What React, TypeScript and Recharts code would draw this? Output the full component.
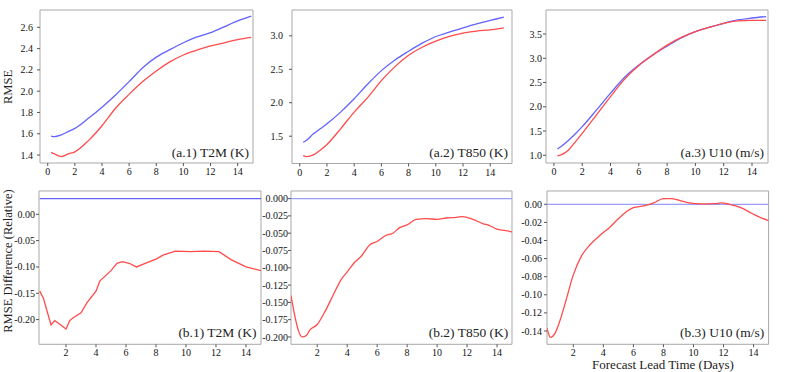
import React from "react"
import { LineChart, Line, XAxis, YAxis, ReferenceArea } from "recharts"

// lead times (days) for the RMSE panels
const topDays = [0.25, 0.5, 1, 1.5, 2, 3, 4, 5, 6, 7, 8, 9, 10, 11, 12, 13, 14, 15]

const t2mBlue = [1.578, 1.573, 1.59, 1.62, 1.65, 1.745, 1.85, 1.965, 2.09, 2.22, 2.32, 2.39, 2.455, 2.51, 2.55, 2.605, 2.66, 2.705]
const t2mRed = [1.425, 1.41, 1.385, 1.41, 1.43, 1.535, 1.675, 1.84, 1.97, 2.09, 2.19, 2.275, 2.34, 2.385, 2.425, 2.455, 2.485, 2.505]

const t850Blue = [1.41, 1.44, 1.535, 1.61, 1.685, 1.86, 2.06, 2.28, 2.48, 2.64, 2.77, 2.89, 2.99, 3.055, 3.12, 3.18, 3.23, 3.28]
const t850Red = [1.21, 1.195, 1.22, 1.29, 1.376, 1.61, 1.86, 2.08, 2.33, 2.54, 2.71, 2.83, 2.92, 2.99, 3.04, 3.07, 3.09, 3.12]

const u10Blue = [1.13, 1.18, 1.3, 1.44, 1.59, 1.93, 2.28, 2.61, 2.86, 3.07, 3.25, 3.42, 3.55, 3.64, 3.72, 3.79, 3.83, 3.86]
const u10Red = [0.99, 1.01, 1.1, 1.27, 1.45, 1.83, 2.21, 2.57, 2.85, 3.07, 3.27, 3.43, 3.55, 3.64, 3.72, 3.77, 3.78, 3.78]

// relative RMSE difference panels
const t2mDiffDays = [0.25, 0.5, 1.0, 1.25, 1.5, 2.0, 2.25, 2.5, 3.0, 3.4, 4.0, 4.25, 5.0, 5.4, 5.75, 6.2, 6.7, 7.4, 8.0, 8.5, 9.3, 10.3, 11.2, 12.2, 13.0, 14.0, 15.0]
const t2mDiff = [-0.146, -0.16, -0.21, -0.202, -0.207, -0.218, -0.202, -0.196, -0.187, -0.168, -0.146, -0.127, -0.107, -0.093, -0.09, -0.093, -0.1, -0.092, -0.085, -0.077, -0.07, -0.071, -0.07, -0.071, -0.086, -0.1, -0.107]
const t2mZero = [0.03, 0.03]

const t850DiffDays = [0.25, 0.5, 0.78, 1.0, 1.27, 1.5, 2.0, 2.5, 3.05, 3.6, 4.0, 4.5, 4.95, 5.5, 6.0, 6.6, 7.05, 7.5, 8.0, 8.6, 9.3, 10.0, 10.6, 11.3, 11.7, 12.4, 13.05, 13.5, 14.0, 14.5, 15.0]
const t850Diff = [-0.14, -0.169, -0.193, -0.2, -0.198, -0.19, -0.182, -0.164, -0.14, -0.117, -0.106, -0.092, -0.083, -0.067, -0.062, -0.053, -0.05, -0.042, -0.038, -0.03, -0.029, -0.03, -0.028, -0.027, -0.026, -0.03, -0.036, -0.039, -0.044, -0.046, -0.048]

const u10DiffDays = [0.25, 0.48, 0.77, 1.0, 1.45, 2.0, 2.55, 3.1, 3.8, 4.45, 5.0, 5.6, 6.0, 6.7, 7.35, 8.0, 8.5, 9.05, 9.7, 10.5, 11.4, 11.85, 12.4, 13.15, 13.85, 14.5, 15.0]
const u10Diff = [-0.137, -0.147, -0.143, -0.134, -0.11, -0.078, -0.057, -0.045, -0.034, -0.025, -0.016, -0.0074, -0.0037, -0.0018, 0.0015, 0.0063, 0.0063, 0.0044, 0.0015, 0.0004, 0.0007, 0.0015, 0, -0.0037, -0.0096, -0.015, -0.018]

const zeroDays = [0.25, 15]
const zeroLine = [0, 0]

const topXTicks = [0, 2, 4, 6, 8, 10, 12, 14]
const bottomXTicks = [2, 4, 6, 8, 10, 12, 14]

const zip = (days: number[], vals: number[]) => days.map((d, i) => ({ day: d, v: vals[i] }))

const BLUE = "#6262ff"
const RED = "#ff4b4b"
const ZERO = "#9c9cff"
const FRAME = "#a8a8a8"
const FONT = "Liberation Serif, serif"

type Box = { l: number; r: number; t: number; b: number }
type Series = { data: { day: number; v: number }[]; color: string; curve: "monotone" | "linear" }

function Panel(props: {
  box: Box
  xDomain: [number, number]
  xTicks: number[]
  yDomain: [number, number]
  yTicks: number[]
  digits: number
  gap: number
  series: Series[]
  title: string
}) {
  const { box, xDomain, xTicks, yDomain, yTicks, digits, gap, series, title } = props
  const YW = 48
  const PAD = 4
  const XH = 22
  const w = box.r - box.l + YW + PAD
  const h = box.b - box.t + PAD + XH
  const tickStyle = { fill: "#111", fontSize: 10, fontFamily: FONT }
  return (
    <div style={{ position: "absolute", left: box.l - YW, top: box.t - PAD, width: w, height: h, fontFamily: FONT }}>
      <LineChart width={w} height={h} margin={{ top: PAD, right: PAD, left: 0, bottom: 0 }} style={{ fontFamily: FONT }}>
        <XAxis
          type="number"
          dataKey="day"
          domain={xDomain}
          ticks={xTicks}
          allowDataOverflow
          interval={0}
          height={XH}
          axisLine={false}
          tickSize={3}
          tickLine={{ stroke: "#555" }}
          tick={tickStyle}
        />
        <YAxis
          type="number"
          domain={yDomain}
          ticks={yTicks}
          allowDataOverflow
          interval={0}
          width={YW}
          axisLine={false}
          tickSize={3}
          tickMargin={gap}
          tickLine={{ stroke: "#555" }}
          tickFormatter={(v: number) => v.toFixed(digits)}
          tick={tickStyle}
        />
        {series.map((s, i) => (
          <Line
            key={i}
            data={s.data}
            dataKey="v"
            type={s.curve}
            stroke={s.color}
            strokeWidth={1.3}
            dot={false}
            activeDot={false}
            isAnimationActive={false}
          />
        ))}
        <ReferenceArea
          x1={xDomain[0]}
          x2={xDomain[1]}
          y1={yDomain[0]}
          y2={yDomain[1]}
          fill="none"
          fillOpacity={0}
          stroke={FRAME}
          strokeWidth={1}
        />
      </LineChart>
      <div
        style={{
          position: "absolute",
          right: PAD + 4,
          bottom: XH + 4,
          fontFamily: FONT,
          fontSize: 13.5,
          lineHeight: 1,
          color: "#222",
          whiteSpace: "nowrap",
        }}
      >
        {title}
      </div>
    </div>
  )
}

const rotated = (text: string, cx: number, cy: number) => (
  <div
    style={{
      position: "absolute",
      left: cx,
      top: cy,
      transform: "translate(-50%, -50%) rotate(-90deg)",
      fontFamily: FONT,
      fontSize: 12.5,
      lineHeight: 1,
      color: "#222",
      whiteSpace: "nowrap",
    }}
  >
    {text}
  </div>
)

export default function App() {
  return (
    <div style={{ position: "absolute", left: 0, top: 0, width: 793, height: 372, background: "#fff", overflow: "hidden", fontFamily: FONT }}>
      <Panel
        box={{ l: 40, r: 253, t: 10, b: 163 }}
        xDomain={[-0.57, 15.13]}
        xTicks={topXTicks}
        yDomain={[1.325, 2.763]}
        yTicks={[1.4, 1.6, 1.8, 2.0, 2.2, 2.4, 2.6]}
        digits={1}
        gap={4}
        title="(a.1) T2M (K)"
        series={[
          { data: zip(topDays, t2mBlue), color: BLUE, curve: "monotone" },
          { data: zip(topDays, t2mRed), color: RED, curve: "monotone" },
        ]}
      />
      <Panel
        box={{ l: 292, r: 512, t: 9.5, b: 163 }}
        xDomain={[-0.57, 15.6]}
        xTicks={topXTicks}
        yDomain={[1.092, 3.386]}
        yTicks={[1.5, 2.0, 2.5, 3.0]}
        digits={1}
        gap={6}
        title="(a.2) T850 (K)"
        series={[
          { data: zip(topDays, t850Blue), color: BLUE, curve: "monotone" },
          { data: zip(topDays, t850Red), color: RED, curve: "monotone" },
        ]}
      />
      <Panel
        box={{ l: 546, r: 768, t: 10, b: 163 }}
        xDomain={[-0.56, 15.13]}
        xTicks={topXTicks}
        yDomain={[0.841, 3.995]}
        yTicks={[1.0, 1.5, 2.0, 2.5, 3.0, 3.5]}
        digits={1}
        gap={1}
        title="(a.3) U10 (m/s)"
        series={[
          { data: zip(topDays, u10Blue), color: BLUE, curve: "monotone" },
          { data: zip(topDays, u10Red), color: RED, curve: "monotone" },
        ]}
      />
      <Panel
        box={{ l: 38.5, r: 260.5, t: 190.7, b: 344 }}
        xDomain={[0.2, 15]}
        xTicks={bottomXTicks}
        yDomain={[-0.247, 0.0443]}
        yTicks={[-0.2, -0.15, -0.1, -0.05, 0]}
        digits={2}
        gap={1}
        title="(b.1) T2M (K)"
        series={[
          { data: zip(zeroDays, t2mZero), color: BLUE, curve: "linear" },
          { data: zip(t2mDiffDays, t2mDiff), color: RED, curve: "linear" },
        ]}
      />
      <Panel
        box={{ l: 291.3, r: 512.3, t: 190.7, b: 344 }}
        xDomain={[0.25, 15]}
        xTicks={bottomXTicks}
        yDomain={[-0.2106, 0.011]}
        yTicks={[-0.2, -0.175, -0.15, -0.125, -0.1, -0.075, -0.05, -0.025, 0]}
        digits={3}
        gap={0}
        title="(b.2) T850 (K)"
        series={[
          { data: zip(zeroDays, zeroLine), color: ZERO, curve: "linear" },
          { data: zip(t850DiffDays, t850Diff), color: RED, curve: "monotone" },
        ]}
      />
      <Panel
        box={{ l: 546.7, r: 768.3, t: 190.7, b: 344 }}
        xDomain={[0.25, 15]}
        xTicks={bottomXTicks}
        yDomain={[-0.1547, 0.0147]}
        yTicks={[-0.14, -0.12, -0.1, -0.08, -0.06, -0.04, -0.02, 0]}
        digits={2}
        gap={2}
        title="(b.3) U10 (m/s)"
        series={[
          { data: zip(zeroDays, zeroLine), color: ZERO, curve: "linear" },
          { data: zip(u10DiffDays, u10Diff), color: RED, curve: "monotone" },
        ]}
      />
      {rotated("RMSE", 8, 87)}
      {rotated("RMSE Difference (Relative)", 8, 261)}
      <div
        style={{
          position: "absolute",
          left: 663,
          top: 358,
          transform: "translateX(-50%)",
          fontFamily: FONT,
          fontSize: 13,
          lineHeight: 1,
          color: "#222",
          whiteSpace: "nowrap",
        }}
      >
        Forecast Lead Time (Days)
      </div>
    </div>
  )
}
